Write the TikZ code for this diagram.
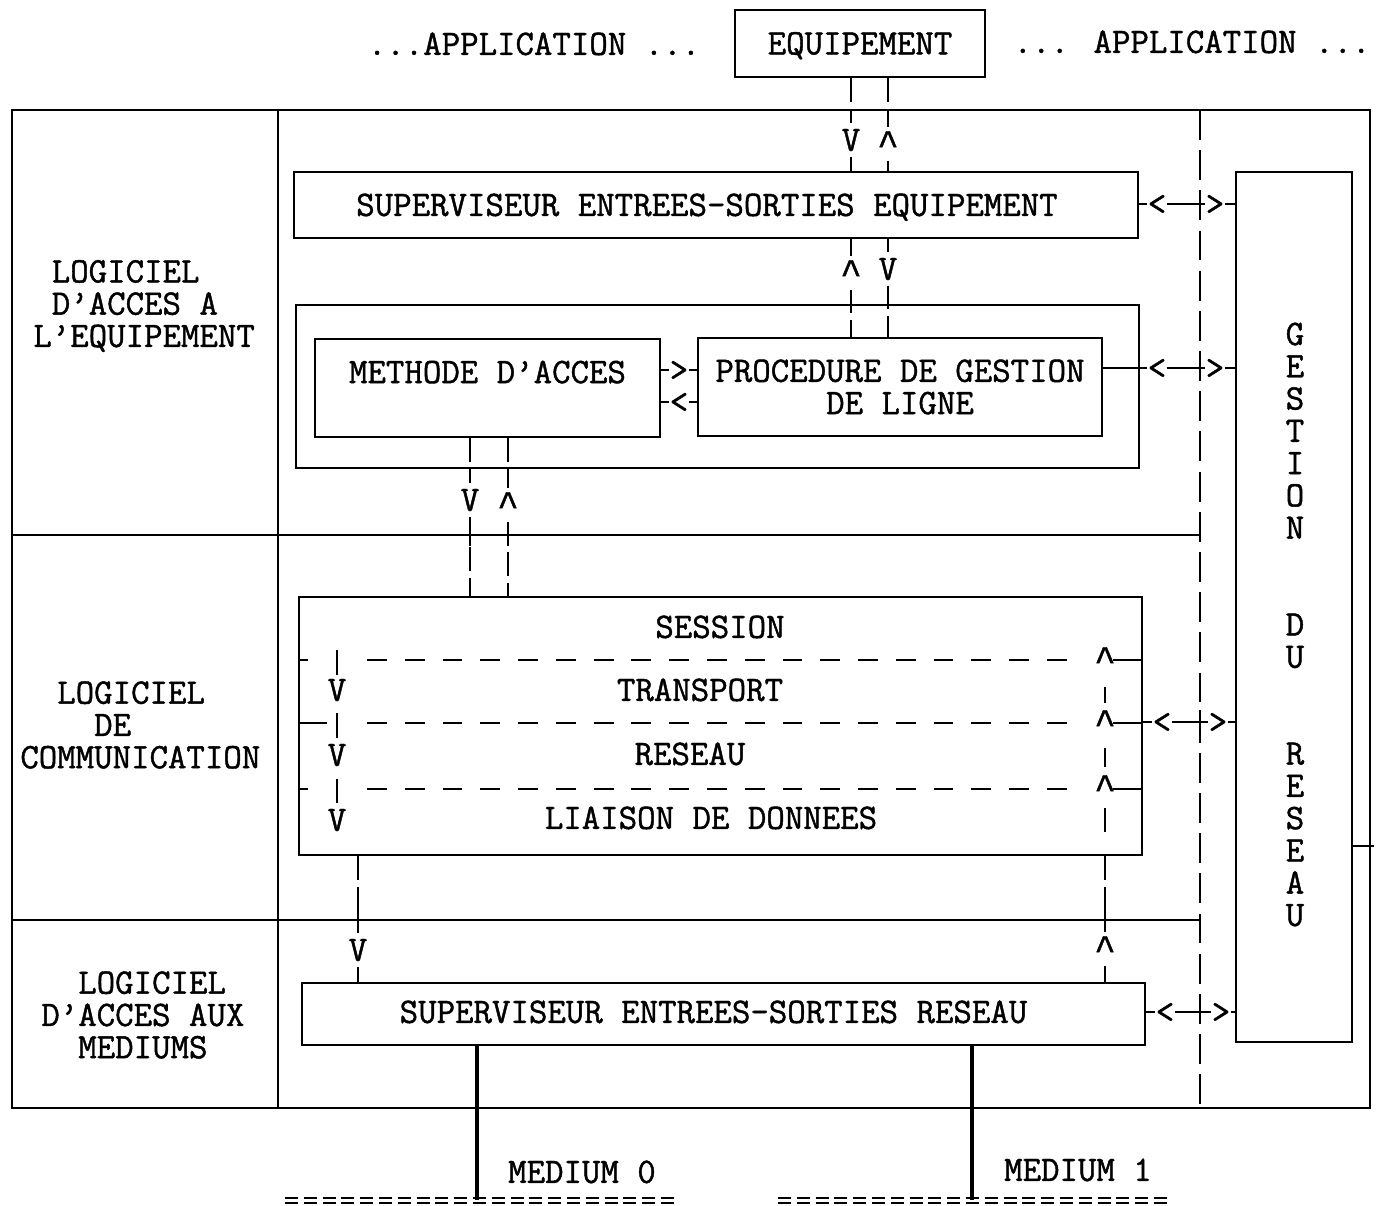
\documentclass[tikz,border=0pt]{standalone}
\usepackage{fontspec}
\newfontfamily\tyfnt{Latin Modern Mono}[FakeBold=1.2]
\newfontfamily\caretfnt{Liberation Mono}[FakeBold=1.2]
\newcommand\upmark{{\caretfnt\symbol{94}}}
\newcommand\apo{\textquoteright}
\begin{document}
\begin{tikzpicture}[x=0.02cm,y=-0.02cm,
  tt/.style={font=\tyfnt\fontsize{20.4pt}{18.37pt}\selectfont, inner sep=0pt},
  lbl/.style={tt, text height=12.4pt, text depth=0pt},
  box/.style={draw, line width=1.3pt},
  glyph/.style={lbl, inner xsep=0pt, inner ysep=3pt},
  cglyph/.style={lbl, inner xsep=0pt, inner ysep=0pt},
  frame/.style={line width=1.4pt},
  solidc/.style={line width=1.2pt},
  dshort/.style={line width=1.2pt, dash pattern=on 13.6pt off 4pt},
  dlong/.style={line width=1.2pt, dash pattern=on 17pt off 5.87pt},
  dsep/.style={line width=1.1pt, dash pattern=on 11.3pt off 10.2pt},
  dmed/.style={line width=1pt, dash pattern=on 7.4pt off 3.3pt},
  medline/.style={line width=1.8pt},
]
\useasboundingbox (0,0) rectangle (1384,1206);

% frame
\draw[frame] (12,110) rectangle (1370,1108);
\draw[frame] (278,110) -- (278,1108);
\coordinate (dtop) at (1200,110);
\coordinate (dbot) at (1200,1108);
\draw[dlong] (dtop) -- (dbot);
\coordinate (h1) at (1200,535);
\coordinate (h2) at (1200,920);
\draw[frame] (12,535) -- (h1);
\draw[frame] (12,920) -- (h2);

% left labels
\node[tt, align=left, anchor=west] (lab1) at (33,306) {\hphantom{L}LOGICIEL\\\hphantom{L}D\apo ACCES A\\L\apo EQUIPEMENT};
\node[tt, align=left, anchor=west] (lab2) at (20,725) {\hphantom{LO}LOGICIEL\\\hphantom{LOGI}DE\\COMMUNICATION};
\node[tt, align=left, anchor=west] (lab3) at (41,1015) {\hphantom{LO}LOGICIEL\\D\apo ACCES AUX\\\hphantom{LO}MEDIUMS};

% top
\node[lbl] (appl) at (534,44) {...APPLICATION ...};
\node[box, lbl, minimum width=5cm, minimum height=1.34cm] (equip) at (860,43.5) {EQUIPEMENT};
\node[lbl] (appr) at (1192,42) {... APPLICATION ...};

% boxes
\node[box, minimum width=16.88cm, minimum height=1.32cm] (seq) at (716,205) {};
\node[lbl] (seqt) at (707,205) {SUPERVISEUR ENTREES-SORTIES EQUIPEMENT};
\node[box, minimum width=16.86cm, minimum height=3.26cm] (grp) at (717.5,386.5) {};
\node[box, tt, align=center, minimum width=6.9cm, minimum height=1.96cm] (meth) at (487.5,388) {METHODE D\apo ACCES\\\mbox{}};
\node[box, tt, align=center, minimum width=8.08cm, minimum height=1.96cm] (proc) at (900,387) {PROCEDURE DE GESTION\\DE LIGNE};
\node[box, minimum width=16.86cm, minimum height=5.16cm] (comm) at (720.5,726) {};
\node[box, minimum width=16.86cm, minimum height=1.24cm] (sres) at (723.5,1014) {};
\node[lbl] (srest) at (713.5,1012) {SUPERVISEUR ENTREES-SORTIES RESEAU};
\node[box, minimum width=2.32cm, minimum height=17.4cm] (gest) at (1294,607) {};
\node[tt, align=center] (gestt) at (1295,624.5) {G\\E\\S\\T\\I\\O\\N\\\mbox{}\\\mbox{}\\D\\U\\\mbox{}\\\mbox{}\\R\\E\\S\\E\\A\\U};
\coordinate (tk) at (1374,846);
\draw[solidc] (gest.east |- tk) -- (tk);

% communication layers
\node[lbl] (ses) at (720,627) {SESSION};
\node[lbl] (tra) at (700,690) {TRANSPORT};
\node[lbl] (res) at (690,754) {RESEAU};
\node[lbl] (lia) at (711,818) {LIAISON DE DONNEES};
\foreach \y/\l in {660/308, 723/327, 789/308} {
  \draw[solidc] (299,\y) -- (\l,\y);
  \draw[dsep] (367,\y) -- (1080,\y);
  \draw[solidc] (1113,\y) -- (1142,\y);
}
% left chain (down)
\draw[solidc] (337,650) -- (337,675);
\node[glyph] (va) at (337,690) {V};
\draw[solidc] (337,713) -- (337,738);
\node[glyph] (vb) at (337,755) {V};
\draw[solidc] (337,779) -- (337,803);
\node[glyph] (vc) at (337,820) {V};
% right chain (up)
\node[glyph] (ca) at (1105,660) {\upmark};
\draw[solidc] (1105,687) -- (1105,703);
\node[glyph] (cb) at (1105,723) {\upmark};
\draw[solidc] (1105,748) -- (1105,767);
\node[glyph] (cc) at (1105,788) {\upmark};
\draw[solidc] (1105,808) -- (1105,832);

% lower chains
\node[glyph] (vd) at (358,950) {V};
\draw[dshort] (comm.south -| vd) -- (vd.north);
\draw[dshort] (vd.south) -- (sres.north -| vd);
\node[glyph] (cd) at (1105,949) {\upmark};
\draw[dshort] (comm.south -| cd) -- (cd.north);
\draw[dshort] (cd.south) -- (sres.north -| cd);
\draw[solidc] (358,909) -- (358,931);
\draw[solidc] (1105,909) -- (1105,931);

% equipement <-> superviseur
\node[glyph] (v1) at (851,140) {V};
\node[glyph] (c1) at (888,144) {\upmark};
\draw[dshort] (equip.south -| v1) -- (v1.north);
\draw[dshort] (v1.south) -- (seq.north -| v1);
\draw[dshort] (equip.south -| c1) -- (c1.north);
\draw[dshort] (c1.south) -- (seq.north -| c1);

% superviseur <-> procedure
\node[glyph] (c2) at (851,273) {\upmark};
\node[glyph] (v2) at (888,269) {V};
\draw[dshort] (seq.south -| c2) -- (c2.north);
\draw[dshort] (c2.south) -- (proc.north -| c2);
\draw[dshort] (seq.south -| v2) -- (v2.north);
\draw[dshort] (v2.south) -- (proc.north -| v2);

% methode <-> communication
\node[glyph] (v3) at (470,500) {V};
\node[glyph] (c3) at (508,505) {\upmark};
\draw[dshort] (meth.south -| v3) -- (v3.north);
\draw[dshort] (v3.south) -- (comm.north -| v3);
\draw[dshort] (meth.south -| c3) -- (c3.north);
\draw[dshort] (c3.south) -- (comm.north -| c3);
\draw[solidc] (470,524) -- (470,546);
\draw[solidc] (508,524) -- (508,546);

% methode <-> procedure
\node[cglyph] (g4) at (679,370) {>};
\node[cglyph] (l4) at (679,402) {<};
\draw[solidc] (meth.east |- g4) -- (g4.west);
\draw[solidc] (g4.east) -- (proc.west |- g4);
\draw[solidc] (meth.east |- l4) -- (l4.west);
\draw[solidc] (l4.east) -- (proc.west |- l4);

% connections to gestion du reseau
\foreach \src/\y/\a/\b/\n in {seq/204/1157/1215/5, proc/368/1157/1215/6, comm/722/1162/1218/7, sres/1012/1165/1221/8} {
  \node[cglyph] (lt\n) at (\a,\y) {<};
  \node[cglyph] (gt\n) at (\b,\y) {>};
  \draw[solidc] (\src.east |- lt\n) -- (lt\n.west);
  \draw[solidc] (lt\n.east) -- (gt\n.west);
  \draw[solidc] (gt\n.east) -- (gest.west |- gt\n);
  \draw[solidc] (1200,{\y-12}) -- (1200,{\y+12});
}

% mediums
\coordinate (m0) at (477,1200);
\coordinate (m1) at (972,1200);
\draw[medline] (sres.south -| m0) -- (m0);
\draw[medline] (sres.south -| m1) -- (m1);
\node[lbl] (med0) at (582,1172) {MEDIUM 0};
\node[lbl] (med1) at (1078,1170) {MEDIUM 1};
\draw[dmed] (285,1198) -- (675,1198);
\draw[dmed] (285,1203) -- (675,1203);
\draw[dmed] (778,1198) -- (1172,1198);
\draw[dmed] (778,1203) -- (1172,1203);
\end{tikzpicture}
\end{document}
